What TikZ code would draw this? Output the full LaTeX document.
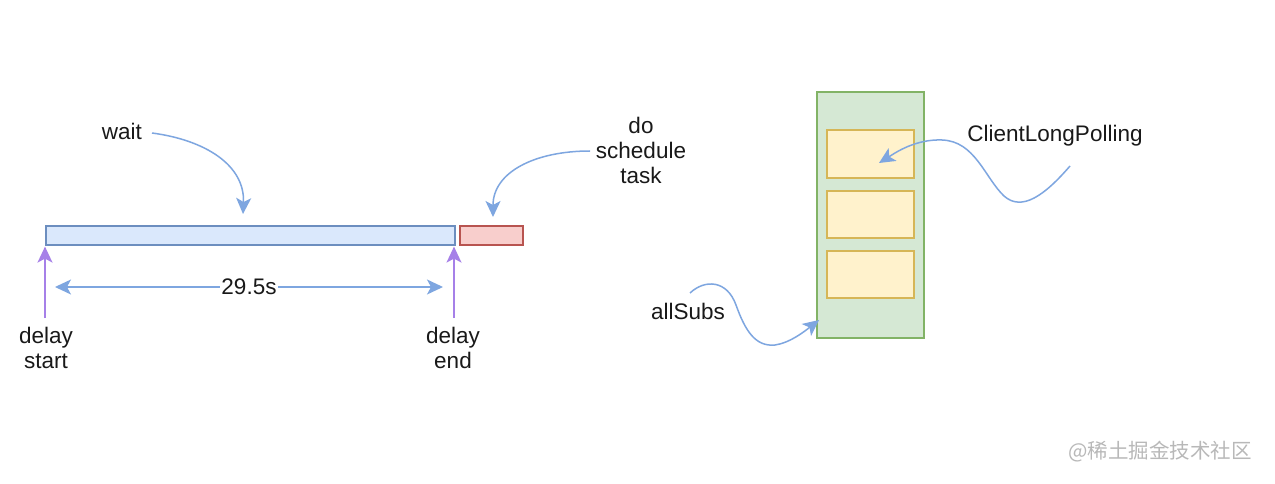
\documentclass[tikz,border=0pt]{standalone}
\usepackage{fontspec}
\setmainfont{Liberation Sans}
\newfontfamily\cjk{Noto Sans CJK SC}
\usetikzlibrary{arrows.meta}
\definecolor{bluefill}{HTML}{DAE8FC}
\definecolor{bluestroke}{HTML}{6C8EBF}
\definecolor{redfill}{HTML}{F8CECC}
\definecolor{redstroke}{HTML}{B85450}
\definecolor{greenfill}{HTML}{D5E8D4}
\definecolor{greenstroke}{HTML}{82B366}
\definecolor{yellowfill}{HTML}{FFF2CC}
\definecolor{yellowstroke}{HTML}{D6B656}
\definecolor{arrowblue}{HTML}{7EA6E0}
\definecolor{arrowpurple}{HTML}{A680E8}
\definecolor{wmgray}{HTML}{B8B8B8}
\begin{document}
\begin{tikzpicture}[x=1pt,y=-1pt,
  txt/.style={font=\fontsize{22.5}{25}\selectfont, align=center, inner sep=0pt, text=black!90},
  barbox/.style={draw, line width=1.6pt, inner sep=0pt, anchor=north west},
  bluearrow/.style={draw=arrowblue, line width=1.5pt, -{Stealth[length=16pt,width=15pt,inset=4pt]}},
  purplearrow/.style={draw=arrowpurple, line width=1.5pt, -{Stealth[length=16pt,width=15pt,inset=4pt]}},
  dblarrow/.style={draw=arrowblue, line width=1.5pt, {Stealth[length=16pt,width=15pt,inset=4pt]}-{Stealth[length=16pt,width=15pt,inset=4pt]}}
]
\useasboundingbox (0,0) rectangle (1275,484);
\fill[white] (0,0) rectangle (1275,484);

% timeline bars
\node[barbox, draw=bluestroke, fill=bluefill, minimum width=409pt, minimum height=19pt] (waitbar) at (45,225) {};
\node[barbox, draw=redstroke, fill=redfill, minimum width=63pt, minimum height=19pt] (taskbar) at (459,225) {};

% labels
\node[txt] (waitlbl) at (122,131) {wait};
\node[txt] (dolbl) at (641,150) {do\\schedule\\task};
\node[txt] (startlbl) at (46,348) {delay\\start};
\node[txt] (endlbl) at (453,348) {delay\\end};

% wait arrow
\coordinate (w0) at (152,133);
\coordinate (w1) at (243,214);
\draw[bluearrow] (w0) .. controls (205,140) and (245,165) .. (w1);

% do schedule task arrow
\coordinate (d0) at (590,151);
\coordinate (d1) at (493,217);
\draw[bluearrow] (d0) .. controls (535,151) and (493,172) .. (d1);

% purple arrows
\coordinate (ps) at (45,318);
\coordinate (pe) at (454,318);
\draw[purplearrow] (ps) -- ([yshift=-1pt]ps |- waitbar.south);
\draw[purplearrow] (pe) -- ([yshift=-1pt]pe |- waitbar.south);

% 29.5s double arrow
\coordinate (a0) at (55,287);
\coordinate (a1) at (443,287);
\draw[dblarrow] (a0) -- node[txt, fill=white, inner xsep=1pt, inner ysep=1pt] (duration) {29.5s} (a1);

% right side: container
\node[barbox, draw=greenstroke, fill=greenfill, minimum width=107pt, minimum height=246pt] (subs) at (816,91) {};
\node[barbox, draw=yellowstroke, fill=yellowfill, minimum width=87pt, minimum height=48pt] (s1) at (826,129) {};
\node[barbox, draw=yellowstroke, fill=yellowfill, minimum width=87pt, minimum height=47pt] (s2) at (826,190) {};
\node[barbox, draw=yellowstroke, fill=yellowfill, minimum width=87pt, minimum height=47pt] (s3) at (826,250) {};

\node[txt] (clp) at (1055,136) {ClientLongPolling};
\node[txt] (alls) at (688,311) {allSubs};

% ClientLongPolling arrow
\coordinate (c0) at (1070,166);
\coordinate (c1) at (879,163);
\draw[bluearrow] (c0) .. controls (1045,195) and (1022,212) .. (1004,196)
  .. controls (985,178) and (975,141) .. (942,140)
  .. controls (915,139) and (895,153) .. (c1);

% allSubs arrow
\coordinate (b0) at (690,293);
\coordinate (b1) at (819,320);
\draw[bluearrow] (b0) .. controls (705,279) and (727,280) .. (736,305)
  .. controls (745,330) and (755,347) .. (775,345)
  .. controls (790,343) and (805,331) .. (b1);

% watermark
\node[font=\cjk\fontsize{20.5}{22}\selectfont, text=wmgray, inner sep=0pt] (wm) at (1160,452) {@稀土掘金技术社区};
\end{tikzpicture}
\end{document}
